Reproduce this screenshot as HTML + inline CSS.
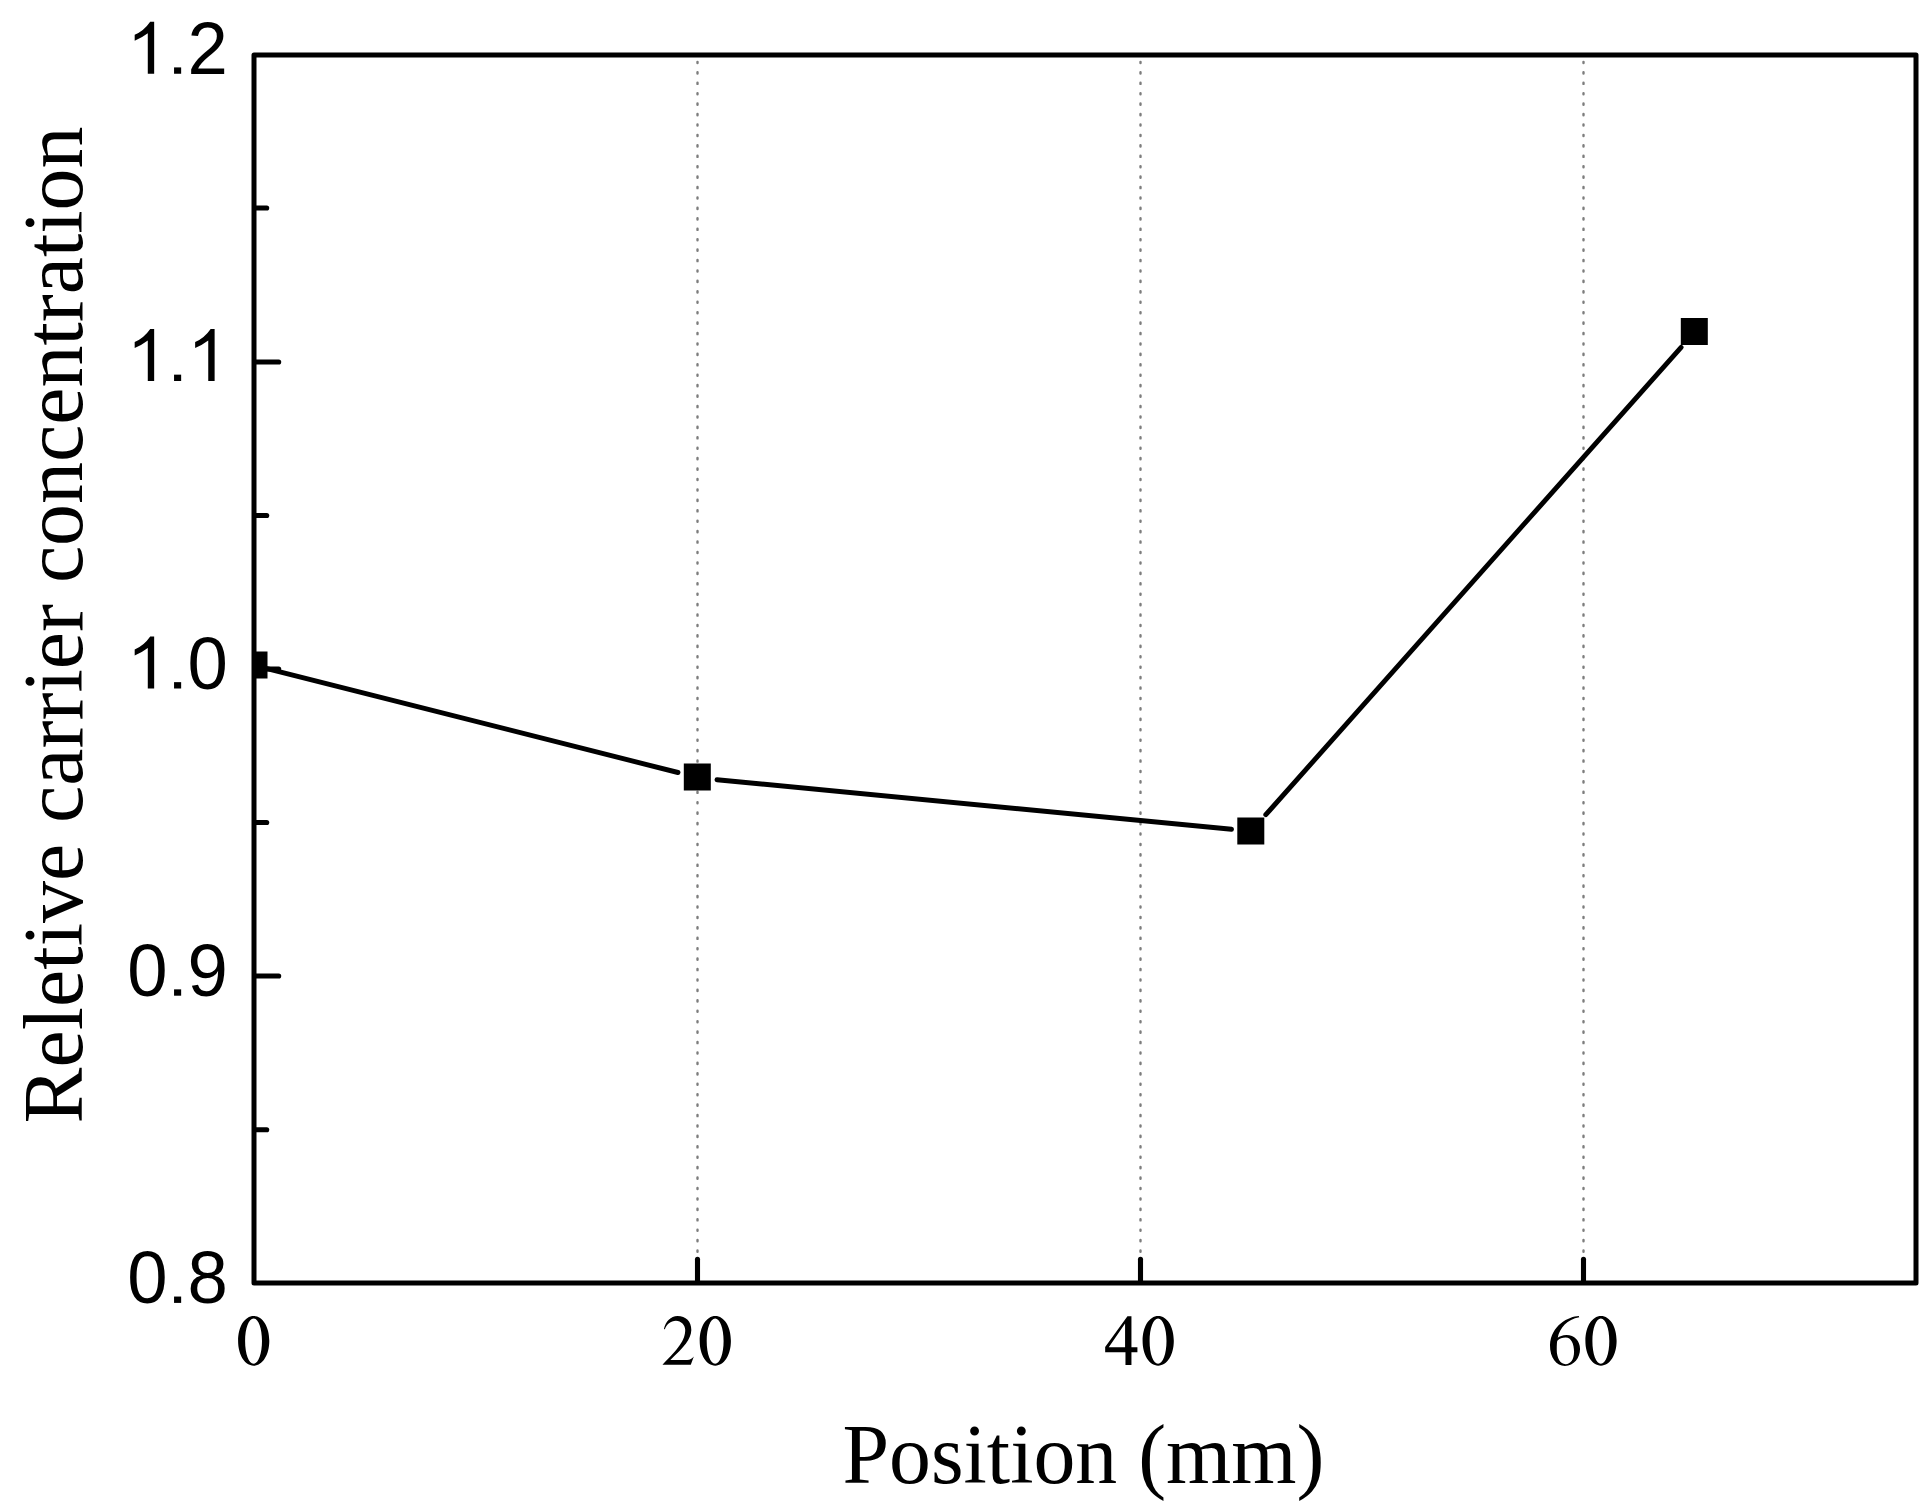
<!DOCTYPE html>
<html><head><meta charset="utf-8">
<style>
html,body{margin:0;padding:0;background:#fff;}
body{width:1920px;height:1507px;overflow:hidden;}
svg{display:block;}
.ys{font-family:"Liberation Sans",sans-serif;font-size:72.5px;fill:#000;}
.xs{font-family:"Liberation Serif",serif;font-size:74px;fill:#000;}
.tt{font-family:"Liberation Serif",serif;font-size:83.8px;fill:#000;}
</style></head>
<body>
<svg width="1920" height="1507" viewBox="0 0 1920 1507">
<defs>
<path id="one" d="M763 0L583 0L583 1141Q425 1019 213 930L213 1100Q473 1205 651 1466L763 1466Z"/>
<clipPath id="plot"><rect x="254" y="55" width="1662" height="1228"/></clipPath>
</defs>
<rect x="0" y="0" width="1920" height="1507" fill="#fff"/>
<g stroke="#7d7d7d" stroke-width="2.4" stroke-linecap="round" stroke-dasharray="1.2 9.2266" fill="none">
<line x1="697.5" y1="61.85" x2="697.5" y2="1283"/>
<line x1="1140.5" y1="61.85" x2="1140.5" y2="1283"/>
<line x1="1583.5" y1="61.85" x2="1583.5" y2="1283"/>
</g>
<g stroke="#000" stroke-width="5.1" stroke-linecap="round" fill="none">
<line x1="256" y1="362" x2="278.7" y2="362"/>
<line x1="256" y1="669" x2="278.7" y2="669"/>
<line x1="256" y1="976" x2="278.7" y2="976"/>
<line x1="256" y1="208" x2="266.7" y2="208"/>
<line x1="256" y1="515.5" x2="266.7" y2="515.5"/>
<line x1="256" y1="822.5" x2="266.7" y2="822.5"/>
<line x1="256" y1="1129.8" x2="266.7" y2="1129.8"/>
<line x1="697.5" y1="1281" x2="697.5" y2="1259.2"/>
<line x1="1140.5" y1="1281" x2="1140.5" y2="1259.2"/>
<line x1="1583.5" y1="1281" x2="1583.5" y2="1259.2"/>
</g>
<rect x="254" y="55" width="1662" height="1228" fill="none" stroke="#000" stroke-width="5" stroke-linejoin="round"/>
<g stroke="#000" stroke-width="4.9" stroke-linecap="round" fill="none">
<line x1="267" y1="668.7" x2="678" y2="772.5"/>
<line x1="717" y1="779.7" x2="1231.5" y2="829.3"/>
<line x1="1265.8" y1="814.7" x2="1681.1" y2="347.4"/>
</g>
<g fill="#000">
<rect x="240.5" y="651.5" width="27" height="27" clip-path="url(#plot)"/>
<rect x="683.8" y="763.5" width="27" height="27"/>
<rect x="1237.3" y="817.5" width="27" height="27"/>
<rect x="1680.8" y="318" width="27" height="27"/>
</g>
<g class="ys">
<use href="#one" transform="translate(127.15,73.75) scale(0.035400,-0.035400)"/>
<rect x="174.05" y="67.40" width="7.1" height="6.35"/>
<text transform="translate(187.61,73.75) scale(1,1.02)">2</text>
<use href="#one" transform="translate(127.15,381.0) scale(0.035400,-0.035400)"/>
<rect x="174.05" y="374.65" width="7.1" height="6.35"/>
<use href="#one" transform="translate(187.61,381.0) scale(0.035400,-0.035400)"/>
<use href="#one" transform="translate(127.15,688.5) scale(0.035400,-0.035400)"/>
<rect x="174.05" y="682.15" width="7.1" height="6.35"/>
<text transform="translate(187.61,688.5) scale(1,1.02)">0</text>
<text transform="translate(127.15,995.7) scale(1,1.02)">0</text>
<rect x="174.05" y="989.35" width="7.1" height="6.35"/>
<text transform="translate(187.61,995.7) scale(1,1.02)">9</text>
<text transform="translate(127.15,1302.9) scale(1,1.02)">0</text>
<rect x="174.05" y="1296.55" width="7.1" height="6.35"/>
<text transform="translate(187.61,1302.9) scale(1,1.02)">8</text>
</g>
<defs><path id="zero" fill-rule="evenodd" d="M18.50 -49.00C27.39 -49.00 34.10 -38.31 34.10 -24.15C34.10 -9.99 27.39 0.70 18.50 0.70C9.61 0.70 2.90 -9.99 2.90 -24.15C2.90 -38.31 9.61 -49.00 18.50 -49.00ZM18.35 -46.60C23.08 -46.60 26.80 -37.09 26.80 -23.95C26.80 -10.81 23.08 -1.30 18.35 -1.30C13.62 -1.30 9.90 -10.81 9.90 -23.95C9.90 -37.09 13.62 -46.60 18.35 -46.60Z"/></defs>
<g fill="#000">
<use href="#zero" transform="translate(235.2,1365)"/>
<use href="#zero" transform="translate(696.8,1365)"/>
<use href="#zero" transform="translate(1139.7,1365)"/>
<use href="#zero" transform="translate(1582.5,1365)"/>
</g>
<g fill="#000" fill-rule="evenodd">
<path transform="translate(660,1310) scale(0.039801)" d="M66.7 1376L773.6 1376L850 1169C800 1230 760 1254 680 1254L260 1254C600 936 780 736 787 502.5C790 290 650 150 440 150C270 150 140 290 100 470L120 490C160 360 270 270 400 270C530 270 633.6 380 633.6 502.5C633.6 756 467 969 66.7 1369.5Z"/>
<path transform="translate(1100,1310) scale(0.039801)" d="M790 155L690 155L130 930L130 1060L640 1060L640 1380L790 1380L790 1060L940 1060L940 935L790 935ZM220 935L630 340L630 935Z"/>
<path transform="translate(1545,1310) scale(0.039801)" d="M850 150C600 160 150 380 125 880C122 1200 290 1405 500 1405C730 1405 880 1200 880 980C880 780 740 630 540 630C440 630 360 670 320 700C370 450 560 240 860 185ZM520 690C660 690 730 850 730 1050C730 1250 640 1360 520 1360C380 1360 295 1200 295 1000C295 880 300 790 310 770C360 720 440 690 520 690Z"/>
</g>
<text class="tt" x="1083.4" y="1483.4" text-anchor="middle">Position (mm)</text>
<text class="tt" style="font-size:83.9px" transform="translate(82,625) rotate(-90)" text-anchor="middle">Reletive carrier concentration</text>
</svg>
</body></html>
